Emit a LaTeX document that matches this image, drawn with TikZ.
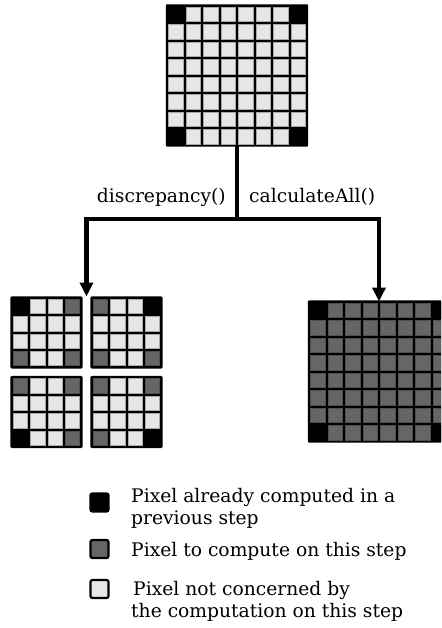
\documentclass[tikz,border=0pt]{standalone}
\usepackage{fontspec}
\setmainfont{DejaVu Serif}
\usetikzlibrary{arrows.meta}

\definecolor{pixlight}{HTML}{E6E6E6}
\definecolor{pixdark}{HTML}{666666}
\definecolor{pixlightedge}{HTML}{A8A8A8}
\definecolor{pixdarkedge}{HTML}{505050}

\tikzset{
  gridbox/.style={inner sep=0pt, outer sep=0pt, draw=none},
  lightcell/.style={fill=pixlight, draw=pixlightedge, line width=0.6pt},
  darkcell/.style={fill=pixdark, draw=pixdarkedge, line width=0.6pt},
  trunk/.style={line width=4.5pt, line join=miter},
  flow/.style={trunk, -{Triangle[width=13pt,length=14pt]}},
  lbl/.style={inner sep=0pt, font=\fontsize{18.7}{22}\selectfont},
  legsq/.style={minimum size=18pt, inner sep=0pt, draw=black, line width=2.2pt, rounded corners=2pt},
}

% grid of cells laid over a named node: node, cells per side, pitch, cell style
\newcommand\pixgrid[4]{%
  \begin{scope}[shift={(#1.north west)}, x=#3, y=-#3]
    \fill[black, rounded corners=1.2pt] (-0.07,-0.07) rectangle (#2+0.07,#2+0.07);
    \foreach \i in {1,...,#2} \foreach \j in {1,...,#2}
      \path[#4] (\i-0.91,\j-0.91) rectangle (\i-0.09,\j-0.09);
  \end{scope}}
% one cell recoloured: node, pitch, column, row, style
\newcommand\pixcell[5]{%
  \begin{scope}[shift={(#1.north west)}, x=#2, y=-#2]
    \path[#5] (#3-0.91,#4-0.91) rectangle (#3-0.09,#4-0.09);
  \end{scope}}
% one cell already computed (solid black): node, pitch, column, row
\newcommand\donecell[4]{%
  \begin{scope}[shift={(#1.north west)}, x=#2, y=-#2]
    \fill[black] (#3-1,#4-1) rectangle (#3,#4);
  \end{scope}}

\begin{document}
\begin{tikzpicture}[x=1pt, y=-1pt]
\useasboundingbox (0,0) rectangle (441,628);
\clip (0,0) rectangle (441,628);

% source image: 8x8, corners known
\node[gridbox, minimum size=140pt] (top) at (237,75.5) {};
\pixgrid{top}{8}{17.5pt}{lightcell}
\donecell{top}{17.5pt}{1}{1}
\donecell{top}{17.5pt}{8}{1}
\donecell{top}{17.5pt}{1}{8}
\donecell{top}{17.5pt}{8}{8}

% four sub-blocks after discrepancy()
\node[gridbox, minimum width=151pt, minimum height=151pt] (quad) at (86.5,372) {};
\node[gridbox, minimum size=69.6pt] (qa) at (46.5,332.5) {};
\node[gridbox, minimum size=69.6pt] (qb) at (126.5,332.5) {};
\node[gridbox, minimum size=69.6pt] (qc) at (46.5,412) {};
\node[gridbox, minimum size=69.6pt] (qd) at (126.5,412) {};
\foreach \q in {qa,qb,qc,qd}{
  \pixgrid{\q}{4}{17.4pt}{lightcell}
  \pixcell{\q}{17.4pt}{1}{1}{darkcell}
  \pixcell{\q}{17.4pt}{4}{1}{darkcell}
  \pixcell{\q}{17.4pt}{1}{4}{darkcell}
  \pixcell{\q}{17.4pt}{4}{4}{darkcell}
}
\donecell{qa}{17.4pt}{1}{1}
\donecell{qb}{17.4pt}{4}{1}
\donecell{qc}{17.4pt}{1}{4}
\donecell{qd}{17.4pt}{4}{4}

% full image after calculateAll()
\node[gridbox, minimum size=140pt] (full) at (379,371.5) {};
\pixgrid{full}{8}{17.5pt}{darkcell}
\donecell{full}{17.5pt}{1}{1}
\donecell{full}{17.5pt}{8}{1}
\donecell{full}{17.5pt}{1}{8}
\donecell{full}{17.5pt}{8}{8}

% connectors
\coordinate (split) at (237,219);
\draw[trunk] (top.south) -- (split);
\draw[flow] (split) -| (quad.north);
\draw[flow] (split) -| (full.north);

\node[lbl, anchor=base east] (dlabel) at (226,203) {discrepancy()};
\node[lbl, anchor=base west] (clabel) at (249,203) {calculateAll()};

% legend
\node[legsq, fill=black] (kdone) at (99.5,502.5) {};
\node[legsq, fill=pixdark] (kdo) at (99.5,549) {};
\node[legsq, fill=pixlight] (kskip) at (99.5,589) {};
\node[lbl, anchor=base west] (tdone1) at (131,502) {Pixel already computed in a};
\node[lbl, anchor=base west] (tdone2) at (131,524) {previous step};
\node[lbl, anchor=base west] (tdo) at (131,556) {Pixel to compute on this step};
\node[lbl, anchor=base west] (tskip1) at (133,595) {Pixel not concerned by};
\node[lbl, anchor=base west] (tskip2) at (131,617) {the computation on this step};
\end{tikzpicture}
\end{document}
